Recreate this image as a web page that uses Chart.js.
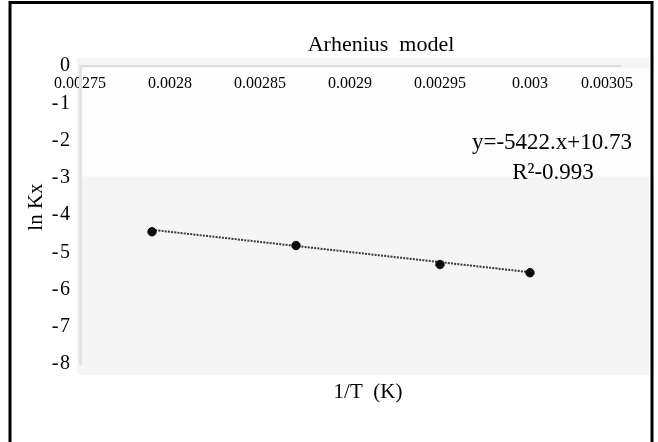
<!DOCTYPE html>
<html>
<head>
<meta charset="utf-8">
<script src="https://cdn.jsdelivr.net/npm/chart.js@4/dist/chart.umd.min.js"></script>
<style>
  html, body { margin: 0; padding: 0; background: #fff; }
  #wrap { width: 658px; height: 442px; position: relative; }
</style>
</head>
<body>
<div id="wrap"><canvas id="c" width="658" height="442"></canvas></div>
<script>
// Arrhenius data: reciprocal temperature vs. ln Kx
const invT = [0.00279, 0.00287, 0.00295, 0.00300];
const lnKx = [-4.45, -4.82, -5.33, -5.55];

// Axis ticks
const xTicks = [0.00275, 0.0028, 0.00285, 0.0029, 0.00295, 0.003, 0.00305];
const yTicks = [0, -1, -2, -3, -4, -5, -6, -7, -8];

// Linear fit shown on the chart
const fitSlope = -5422;
const fitIntercept = 10.73;
const fitLabels = ['y=-5422.x+10.73', 'R\u00B2-0.993'];

// Text
const chartTitle = 'Arhenius  model';
const xTitle = '1/T  (K)';
const yTitle = 'ln Kx';

const SERIF = '"Liberation Serif", "Times New Roman", serif';
const X_TICK_FONT = { family: SERIF, size: 16 };

const fitX = [invT[0], invT[invT.length - 1]];
const fitPoints = fitX.map(x => ({ x: x, y: fitSlope * x + fitIntercept }));
const points = invT.map((x, i) => ({ x: x, y: lnKx[i] }));

const framePlugin = {
  id: 'frame',
  beforeDraw(chart) {
    const { ctx, chartArea, scales } = chart;
    const ys = scales.y;
    ctx.save();
    // keep the last x tick label inside the plot background
    const xs = scales.x;
    const items = xs.getLabelItems();
    if (items.length) {
      const last = items[items.length - 1];
      ctx.font = X_TICK_FONT.size + 'px ' + SERIF;
      const w = ctx.measureText(String(last.label)).width;
      const maxRight = chartArea.right + 13;
      last.options.translation[0] = Math.min(last.options.translation[0], maxRight - w / 2);
    }
    // plot background
    const bgRight = chartArea.right + 29;
    ctx.fillStyle = '#f5f5f5';
    ctx.fillRect(chartArea.left - 3, chartArea.top - 8, bgRight - (chartArea.left - 3), chartArea.bottom + 11 - (chartArea.top - 8));
    // lighter upper band
    const bandTop = ys.getPixelForValue(0) + 2;
    const bandBottom = ys.getPixelForValue(-2.97);
    ctx.fillStyle = '#fdfdfd';
    ctx.fillRect(chartArea.left + 2, bandTop, bgRight - chartArea.left - 2, bandBottom - bandTop);
    // outer frame
    ctx.strokeStyle = '#000';
    ctx.lineWidth = 3;
    ctx.beginPath();
    ctx.moveTo(10, 442);
    ctx.lineTo(10, 2.5);
    ctx.lineTo(652, 2.5);
    ctx.lineTo(652, 442);
    ctx.stroke();
    ctx.restore();
  },
  afterDraw(chart) {
    const { ctx } = chart;
    ctx.save();
    ctx.fillStyle = '#000';
    ctx.textAlign = 'center';
    ctx.textBaseline = 'middle';
    ctx.font = '22px ' + SERIF;
    ctx.fillText(chartTitle, 381, 45);
    ctx.font = '21px ' + SERIF;
    ctx.fillText(xTitle, 368, 392);
    ctx.font = '23px ' + SERIF;
    ctx.fillText(fitLabels[0], 552, 143);
    ctx.fillText(fitLabels[1], 553, 173);
    ctx.save();
    ctx.translate(36, 207);
    ctx.rotate(-Math.PI / 2);
    ctx.font = '21px ' + SERIF;
    ctx.fillText(yTitle, 0, 0);
    ctx.restore();
    ctx.restore();
  }
};

new Chart(document.getElementById('c'), {
  type: 'scatter',
  data: {
    datasets: [
      {
        label: 'fit',
        type: 'line',
        data: fitPoints,
        borderColor: '#3a3a3a',
        borderWidth: 2,
        borderDash: [2, 1.2],
        pointRadius: 0,
        fill: false,
        order: 2
      },
      {
        label: 'ln Kx',
        data: points,
        backgroundColor: '#0a0a0a',
        borderColor: '#0a0a0a',
        pointRadius: 4.2,
        order: 1
      }
    ]
  },
  options: {
    responsive: false,
    animation: false,
    devicePixelRatio: 1,
    layout: { padding: { left: 0, right: 38, top: 66, bottom: 78 } },
    plugins: {
      legend: { display: false },
      tooltip: { enabled: false },
      title: { display: false }
    },
    scales: {
      x: {
        type: 'linear',
        position: { y: 0 },
        min: xTicks[0],
        max: xTicks[xTicks.length - 1],
        afterBuildTicks: s => { s.ticks = xTicks.map(v => ({ value: v })); },
        grid: { display: false, drawTicks: false },
        border: { display: true, color: '#dcdcdc', width: 2 },
        ticks: {
          color: '#000',
          font: X_TICK_FONT,
          padding: 8,
          maxRotation: 0,
          autoSkip: false,
          callback: v => String(v)
        }
      },
      y: {
        type: 'linear',
        position: 'left',
        min: yTicks[yTicks.length - 1],
        max: yTicks[0],
        afterBuildTicks: s => { s.ticks = yTicks.map(v => ({ value: v })); },
        afterFit: s => { s.width = 80; },
        grid: { display: false, drawTicks: false },
        border: { display: true, color: '#e2e2e2', width: 3 },
        ticks: {
          color: '#000',
          font: { family: SERIF, size: 20 },
          padding: 10,
          callback: v => (v < 0 ? '-\u200A' + Math.abs(v) : String(v))
        }
      }
    }
  },
  plugins: [framePlugin]
});
</script>
</body>
</html>
